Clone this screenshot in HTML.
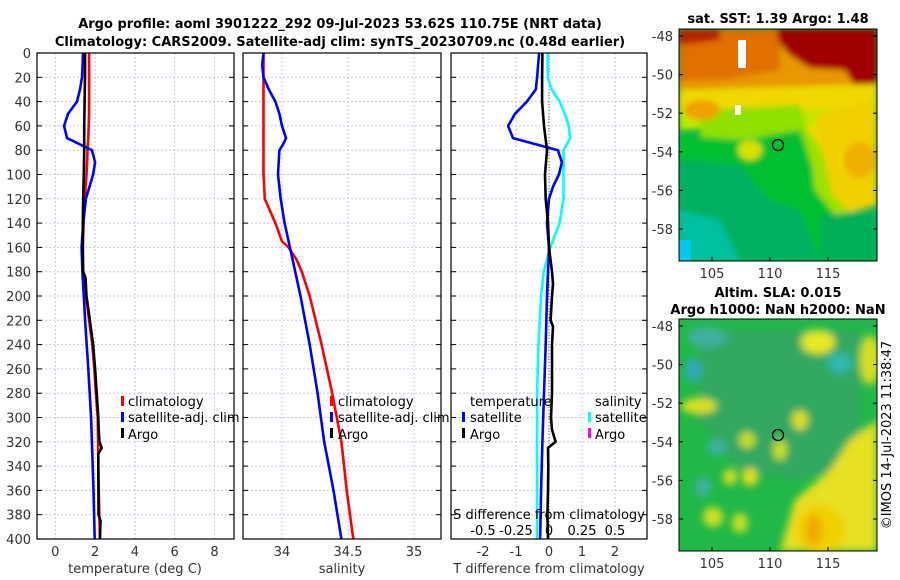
<!DOCTYPE html>
<html><head><meta charset="utf-8"><style>
html,body{margin:0;padding:0;background:#fff;}
svg{display:block;font-family:"DejaVu Sans","Liberation Sans",sans-serif;}
</style></head><body>
<svg id="chart" width="900" height="580" viewBox="0 0 900 580">
<defs>
<filter id="bl" x="-10%" y="-10%" width="120%" height="120%"><feGaussianBlur stdDeviation="3"/></filter>
<filter id="bl2" x="-10%" y="-10%" width="120%" height="120%"><feGaussianBlur stdDeviation="4"/></filter>
<clipPath id="c1"><rect x="37" y="53" width="197" height="486"/></clipPath>
<clipPath id="c2"><rect x="243" y="53" width="198" height="486"/></clipPath>
<clipPath id="c3"><rect x="451" y="53" width="196" height="486"/></clipPath>
<clipPath id="cm1"><rect x="679" y="29" width="198" height="232"/></clipPath>
<clipPath id="cm2"><rect x="679" y="319" width="198" height="232"/></clipPath>
</defs>
<text x="340" y="28" text-anchor="middle" font-size="13" font-weight="bold">Argo profile: aoml 3901222_292 09-Jul-2023 53.62S 110.75E (NRT data)</text>
<text x="340" y="46" text-anchor="middle" font-size="13" font-weight="bold">Climatology: CARS2009. Satellite-adj clim: synTS_20230709.nc (0.48d earlier)</text>

<g id="grids"></g>
<g id="series"></g>
<g id="axes"></g>

<g font-size="13">
<rect x="121" y="396" width="3" height="10" fill="#f00"/><text x="128" y="406">climatology</text>
<rect x="121" y="412" width="3" height="10" fill="#00f"/><text x="128" y="422">satellite-adj. clim</text>
<rect x="121" y="428" width="3" height="10" fill="#000"/><text x="128" y="439">Argo</text>
</g>
<g font-size="13">
<rect x="330" y="396" width="3" height="10" fill="#f00"/><text x="338" y="406">climatology</text>
<rect x="330" y="412" width="3" height="10" fill="#00f"/><text x="338" y="422">satellite-adj. clim</text>
<rect x="330" y="428" width="3" height="10" fill="#000"/><text x="338" y="439">Argo</text>
</g>
<g font-size="13">
<text x="470" y="406">temperature</text>
<rect x="462" y="412" width="3" height="10" fill="#00f"/><text x="470" y="422">satellite</text>
<rect x="462" y="428" width="3" height="10" fill="#000"/><text x="470" y="439">Argo</text>
<text x="595" y="406">salinity</text>
<rect x="588" y="412" width="3" height="10" fill="#0ff"/><text x="595" y="422">satellite</text>
<rect x="588" y="428" width="3" height="10" fill="#f0f"/><text x="595" y="439">Argo</text>
</g>
<text x="549" y="519" text-anchor="middle" font-size="13">S difference from climatology</text>
<g id="sticks" font-size="13" text-anchor="middle"></g>

<text x="778" y="23" text-anchor="middle" font-size="13" font-weight="bold">sat. SST: 1.39 Argo: 1.48</text>
<g clip-path="url(#cm1)">
<rect x="679" y="29" width="198" height="232" fill="#00b848"/>
<g filter="url(#bl)">
<polygon points="679,29 877,29 877,108 679,100" fill="#e89800"/>
<polygon points="679,29 780,29 780,70 720,80 679,80" fill="#e07000"/>
<polygon points="776,29 877,29 877,84 855,86 845,70 810,68 790,55 780,44" fill="#a00000"/>
<polygon points="679,29 720,29 720,40 679,45" fill="#b82000"/>
<polygon points="679,90 877,84 877,200 840,195 820,150 780,120 720,128 679,128" fill="#f0d800"/>
<polygon points="679,110 877,110 877,125 820,125 679,130" fill="#c0e800"/>
<polygon points="700,110 800,105 810,140 820,160 830,200 800,200 740,170 700,150" fill="#90e000"/>
<polygon points="679,135 740,140 800,130 815,175 835,200 860,215 877,220 877,261 679,261" fill="#00c030"/>
<polygon points="679,160 740,165 770,200 800,210 820,261 679,261" fill="#00b060"/>
<polygon points="820,215 877,210 877,261 820,261" fill="#00b058"/>
<polygon points="679,210 720,220 740,261 679,261" fill="#00c0a0"/>
<polygon points="815,115 877,100 877,205 850,212 832,195 822,150" fill="#f0d000"/>
<polygon points="808,130 822,150 832,195 850,212 835,215 815,190" fill="#a0e000"/>
<ellipse cx="750" cy="150" rx="12" ry="10" fill="#d8e000"/>
<ellipse cx="702" cy="110" rx="18" ry="10" fill="#f0a000"/>
<ellipse cx="860" cy="160" rx="16" ry="18" fill="#f0b000"/>
</g>
<rect x="679" y="240" width="12" height="21" fill="#00c8f0"/>
<rect x="738" y="40" width="8" height="28" fill="#fff"/>
<rect x="735" y="105" width="6" height="10" fill="#fff"/>
<circle cx="778" cy="145" r="5.5" fill="none" stroke="#000" stroke-width="1.3"/>
</g>
<rect x="679" y="29" width="198" height="232" fill="none" stroke="#000" stroke-width="1"/>

<text x="778" y="297" text-anchor="middle" font-size="13" font-weight="bold">Altim. SLA: 0.015</text>
<text x="778" y="314" text-anchor="middle" font-size="13" font-weight="bold">Argo h1000: NaN h2000: NaN</text>
<g clip-path="url(#cm2)">
<rect x="679" y="319" width="198" height="232" fill="#20b848"/>
<g filter="url(#bl2)">
<polygon points="700,330 860,330 860,460 800,480 740,470 700,420" fill="#30a860"/>
<ellipse cx="707" cy="337" rx="20" ry="10" fill="#40b0a0"/>
<ellipse cx="693" cy="370" rx="8" ry="12" fill="#30a8c0"/>
<ellipse cx="840" cy="363" rx="12" ry="10" fill="#30b8b0"/>
<ellipse cx="717" cy="447" rx="10" ry="8" fill="#40b0a0"/>
<ellipse cx="703" cy="487" rx="8" ry="10" fill="#40b0a0"/>
<ellipse cx="818" cy="342" rx="17" ry="12" fill="#e8e820"/>
<ellipse cx="699" cy="406" rx="18" ry="8" fill="#d8e020"/>
<ellipse cx="800" cy="420" rx="8" ry="10" fill="#d8e020"/>
<ellipse cx="747" cy="440" rx="8" ry="8" fill="#c8e020"/>
<ellipse cx="780" cy="450" rx="7" ry="10" fill="#c8e020"/>
<ellipse cx="730" cy="477" rx="7" ry="8" fill="#d8e020"/>
<ellipse cx="750" cy="477" rx="8" ry="9" fill="#e0e020"/>
<ellipse cx="713" cy="517" rx="10" ry="10" fill="#d0e020"/>
<ellipse cx="740" cy="523" rx="8" ry="10" fill="#c8e020"/>
<ellipse cx="870" cy="360" rx="10" ry="25" fill="#d8e020"/>
<polygon points="780,551 795,500 830,470 850,440 877,420 877,551" fill="#e8e020"/>
<ellipse cx="820" cy="530" rx="25" ry="25" fill="#f0d000"/>
<ellipse cx="814" cy="530" rx="8" ry="16" fill="#f0a800"/>
</g>
<circle cx="778" cy="435" r="5.5" fill="none" stroke="#000" stroke-width="1.3"/>
</g>
<rect x="679" y="319" width="198" height="232" fill="none" stroke="#000" stroke-width="1"/>
<g id="mapaxes" font-size="13"></g>
<text transform="translate(891,435) rotate(-90)" text-anchor="middle" font-size="13">©IMOS 14-Jul-2023 11:38:47</text>
</svg>
<script>
const yTicks = [0,20,40,60,80,100,120,140,160,180,200,220,240,260,280,300,320,340,360,380,400];
const tTicks = [0,2,4,6,8];
const sTicks = [34,34.5,35];
const sTickLabels = ["34","34.5","35"];
const dTTicks = [-2,-1,0,1,2];
const dSTicks = [-0.5,-0.25,0,0.25,0.5];
const dSTickLabels = ["-0.5","-0.25","0","0.25","0.5"];

const tDepth = [0,10,20,30,40,50,60,70,80,90,100,120,140,160,180,200,220,240,260,280,300,320,340,360,380,400];
const climT = [1.7,1.7,1.7,1.7,1.7,1.7,1.68,1.66,1.62,1.6,1.57,1.48,1.42,1.38,1.36,1.54,1.7,1.86,1.96,2.04,2.13,2.15,2.16,2.18,2.21,2.24];
const satT = [1.39,1.37,1.34,1.24,1.09,0.64,0.44,0.59,1.84,2.0,1.9,1.54,1.4,1.32,1.36,1.43,1.5,1.58,1.66,1.73,1.8,1.84,1.88,1.92,1.95,1.98];
const argoDepth = [0,20,40,60,80,100,120,140,160,180,185,200,220,240,260,280,300,310,320,325,330,340,360,380,385,400];
const argoT = [1.5,1.49,1.47,1.45,1.45,1.43,1.4,1.38,1.38,1.4,1.52,1.57,1.74,1.9,2.0,2.08,2.16,2.18,2.22,2.33,2.16,2.16,2.17,2.17,2.27,2.24];

const sDepth = [0,10,20,30,40,50,60,70,75,80,100,120,140,155,160,170,180,200,240,280,320,360,400];
const climS = [33.86,33.86,33.86,33.86,33.86,33.86,33.86,33.86,33.86,33.86,33.86,33.87,33.95,34.0,34.05,34.11,34.15,34.21,34.3,34.38,34.45,34.49,34.54];
const satS = [33.86,33.85,33.86,33.9,33.95,33.98,34.0,34.03,34.01,33.98,33.97,33.99,34.02,34.05,34.06,34.08,34.1,34.14,34.21,34.27,34.32,34.39,34.45];

const dDepth = [0,20,30,40,50,60,70,80,90,100,110,120,140,160,180,200,240,280,320,360,400];
const satTDiff = [-0.3,-0.36,-0.4,-0.67,-1.03,-1.24,-1.09,0.27,0.39,0.3,0.12,0.0,-0.06,0,-0.03,-0.06,-0.1,-0.15,-0.2,-0.24,-0.27];
const satSDiff = [-0.01,-0.01,0.02,0.08,0.12,0.15,0.16,0.11,0.11,0.11,0.11,0.11,0.08,0.01,-0.04,-0.06,-0.08,-0.09,-0.09,-0.09,-0.09];
const argoDDepth = [0,20,40,60,80,100,120,140,160,180,190,200,220,225,240,260,280,300,310,320,325,340,360,380,400];
const argoTDiff = [-0.2,-0.21,-0.21,-0.15,-0.06,-0.12,-0.1,-0.03,0,0.09,0.12,0.09,0.05,0.12,0.09,0.09,0.09,0.06,0.09,0.2,-0.03,-0.02,-0.03,-0.05,-0.03];

const lonTicks = [105,110,115];
const latTicks = [-48,-50,-52,-54,-56,-58];

const NS='http://www.w3.org/2000/svg';
const Y0=53, Y1=539;
function yD(d){return Y0+(d/400)*(Y1-Y0);}
function xT(v){return 55.3+v*19.9;}
function xS(v){return 282+(v-34)*132;}
function xDT(v){return 549+v*33;}
function xDS(v){return 549+v*132;}
function lonX(l){return 712+(l-105)*11.6;}
function latY1(l){return 36+(-48-l)*19.3;}
function latY2(l){return 326+(-48-l)*19.3;}

function mk(tag,attrs,parent){const e=document.createElementNS(NS,tag);for(const k in attrs)e.setAttribute(k,attrs[k]);parent.appendChild(e);return e;}
const grids=document.getElementById('grids'),series=document.getElementById('series'),axes=document.getElementById('axes');
const panels=[{x0:37,x1:234,id:'temperature'},{x0:243,x1:441,id:'salinity'},{x0:451,x1:647,id:'difference'}];

panels.forEach(p=>{
  const bg=mk('rect',{x:p.x0,y:Y0,width:p.x1-p.x0,height:Y1-Y0,fill:'#fff'},grids);
  
  
  yTicks.forEach(d=>{
    mk('line',{x1:p.x0,x2:p.x1,y1:yD(d),y2:yD(d),stroke:'#c8c8e0','stroke-width':1,'stroke-dasharray':'2,2'},grids);
    mk('line',{x1:p.x0,x2:p.x0+5,y1:yD(d),y2:yD(d),stroke:'#000'},axes);
    mk('line',{x1:p.x1-5,x2:p.x1,y1:yD(d),y2:yD(d),stroke:'#000'},axes);
  });
});
function vgrid(vals,fx,p,labels){
  vals.forEach((v,i)=>{
    const x=fx(v);
    mk('line',{x1:x,x2:x,y1:Y0,y2:Y1,stroke:'#c8c8e0','stroke-width':1,'stroke-dasharray':'2,2'},grids);
    if(labels){const t=mk('text',{x:x,y:556,'text-anchor':'middle','font-size':13,fill:'#333'},axes);t.textContent=labels[i];}
  });
}
vgrid(tTicks,xT,panels[0],tTicks.map(String));
vgrid(sTicks,xS,panels[1],sTickLabels);
vgrid(dTTicks,xDT,panels[2],dTTicks.map(String));
mk('line',{x1:xDT(0),x2:xDT(0),y1:Y0,y2:Y1,stroke:'#555','stroke-width':1,'stroke-dasharray':'1,2'},grids);

panels.forEach(p=>{mk('rect',{x:p.x0,y:Y0,width:p.x1-p.x0,height:Y1-Y0,fill:'none',stroke:'#000','stroke-width':1.2},axes);});
yTicks.forEach(d=>{const t=mk('text',{x:31,y:yD(d)+5,'text-anchor':'end','font-size':13,fill:'#333'},axes);t.textContent=d;});
[['temperature (deg C)',135],['salinity',342],['T difference from climatology',549]].forEach(a=>{
  const t=mk('text',{x:a[1],y:573,'text-anchor':'middle','font-size':13,fill:'#333'},axes);t.textContent=a[0];
});
const st=document.getElementById('sticks');
dSTicks.forEach((v,i)=>{const t=mk('text',{x:xDS(v),y:535},st);t.textContent=dSTickLabels[i];});

function line(xs,ds,fx,color,name,clip,w){
  const pts=xs.map((v,i)=>fx(v).toFixed(1)+','+yD(ds[i]).toFixed(1)).join(' ');
  const e=mk('polyline',{points:pts,fill:'none',stroke:color,'stroke-width':w||2.6,'stroke-linejoin':'round','clip-path':'url(#'+clip+')'},series);
  
  
}
line(climT,tDepth,xT,'#f00','temperature-climatology-line','c1');
line(satT,tDepth,xT,'#00f','temperature-satellite-line','c1');
line(argoT,argoDepth,xT,'#000','temperature-argo-line','c1');
line(climS,sDepth,xS,'#f00','salinity-climatology-line','c2');
line(satS,sDepth,xS,'#00f','salinity-satellite-line','c2');
line(satSDiff,dDepth,xDS,'#0ff','salinity-satellite-diff-line','c3');
line(satTDiff,dDepth,xDT,'#00f','temperature-satellite-diff-line','c3');
line(argoTDiff,argoDDepth,xDT,'#000','temperature-argo-diff-line','c3');

const ma=document.getElementById('mapaxes');
[[29,261,latY1],[319,551,latY2]].forEach(m=>{
  lonTicks.forEach(l=>{
    const x=lonX(l);
    mk('line',{x1:x,x2:x,y1:m[1],y2:m[1]-4,stroke:'#000'},ma);
    const t=mk('text',{x:x,y:m[1]+17,'text-anchor':'middle',fill:'#333'},ma);t.textContent=l;
  });
  latTicks.forEach(l=>{
    const y=m[2](l);
    mk('line',{x1:679,x2:683,y1:y,y2:y,stroke:'#000'},ma);
    mk('line',{x1:873,x2:877,y1:y,y2:y,stroke:'#000'},ma);
    const t=mk('text',{x:673,y:y+5,'text-anchor':'end',fill:'#333'},ma);t.textContent=l;
  });
});
</script>
</body></html>
